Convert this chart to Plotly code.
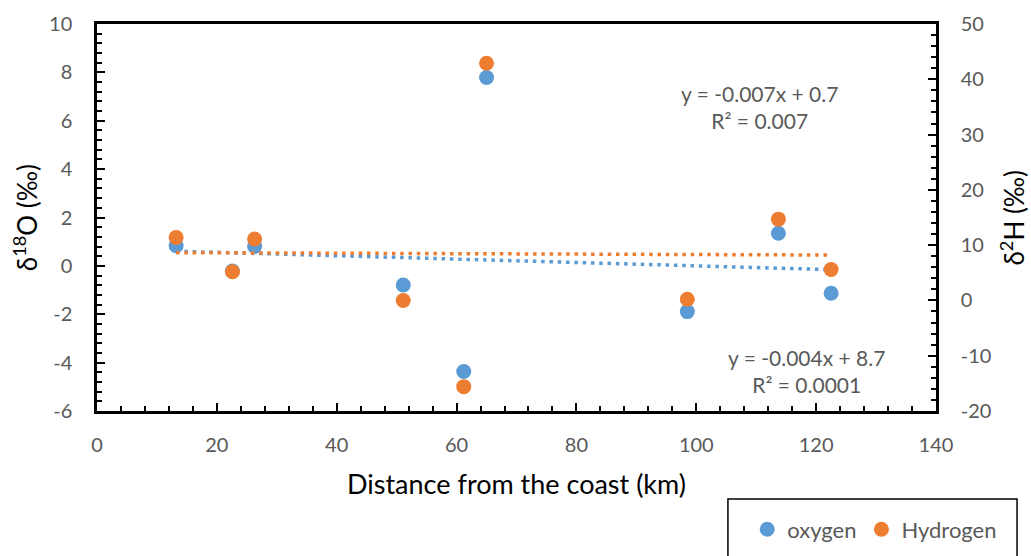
import plotly.graph_objects as go

# Sampling sites: distance inland and isotope values
distance_km = [13.2, 22.6, 26.3, 51.1, 61.2, 65.0, 98.5, 113.7, 122.5]
d18o = [0.83, -0.21, 0.80, -0.79, -4.37, 7.79, -1.89, 1.35, -1.13]
d2h = [11.4, 5.2, 11.1, 0.0, -15.6, 42.9, 0.2, 14.7, 5.6]

# Linear trend coefficients (slope, intercept) and R²
o_fit = (-0.007, 0.7, "0.007")
h_fit = (-0.004, 8.7, "0.0001")

# Axis tick values (labels written with a plain hyphen for negatives)
x_ticks = [0, 20, 40, 60, 80, 100, 120, 140]
o_ticks = [-6, -4, -2, 0, 2, 4, 6, 8, 10]
h_ticks = [-20, -10, 0, 10, 20, 30, 40, 50]

BLUE = "#5B9BD5"
ORANGE = "#ED7D31"
GREY = "#595959"
FONT = "Lato"

x_lo, x_hi = min(distance_km), max(distance_km)

fig = go.Figure()

fig.add_trace(go.Scatter(
    x=distance_km, y=d18o, mode="markers", name="oxygen",
    marker=dict(color=BLUE, size=15), yaxis="y"))
fig.add_trace(go.Scatter(
    x=[x_lo, x_hi], y=[o_fit[0] * x_lo + o_fit[1], o_fit[0] * x_hi + o_fit[1]],
    mode="lines", showlegend=False, yaxis="y",
    line=dict(color=BLUE, width=3.5, dash="3.5px,4.8px")))
fig.add_trace(go.Scatter(
    x=distance_km, y=d2h, mode="markers", name="Hydrogen",
    marker=dict(color=ORANGE, size=15), yaxis="y2"))
fig.add_trace(go.Scatter(
    x=[x_lo, x_hi], y=[h_fit[0] * x_lo + h_fit[1], h_fit[0] * x_hi + h_fit[1]],
    mode="lines", showlegend=False, yaxis="y2",
    line=dict(color=ORANGE, width=3.5, dash="3.5px,4.8px")))

tickfont = dict(family=FONT, size=20, color=GREY)
major = dict(ticks="inside", ticklen=8, tickwidth=2, tickcolor="black")
axis_common = dict(showgrid=False, zeroline=False, showline=True,
                   linecolor="black", linewidth=2.5, tickfont=tickfont, **major)


def labels(vals):
    return [str(v) for v in vals]


fig.update_layout(
    width=1031, height=556,
    margin=dict(l=97, r=95, t=24, b=145, autoexpand=False),
    paper_bgcolor="white", plot_bgcolor="white",
    font=dict(family=FONT, color=GREY),
    xaxis=dict(
        range=[0, 140], tickmode="array", tickvals=x_ticks, ticktext=labels(x_ticks),
        mirror=True, ticklabelstandoff=14,
        minor=dict(dtick=4, tick0=0, ticks="inside", ticklen=5, tickwidth=2, tickcolor="black"),
        **axis_common),
    yaxis=dict(
        range=[-6, 10], tickmode="array", tickvals=o_ticks, ticktext=labels(o_ticks),
        ticklabelstandoff=18,
        minor=dict(dtick=0.4, tick0=0, ticks="inside", ticklen=5, tickwidth=2, tickcolor="black"),
        **axis_common),
    yaxis2=dict(
        range=[-20, 50], tickmode="array", tickvals=h_ticks, ticktext=labels(h_ticks),
        overlaying="y", side="right", ticklabelstandoff=18,
        minor=dict(dtick=2, tick0=0, ticks="inside", ticklen=5, tickwidth=2, tickcolor="black"),
        **axis_common),
    legend=dict(
        orientation="h", x=0.775, xanchor="left", y=-0.306, yanchor="middle",
        font=dict(family=FONT, size=22, color=GREY),
        bgcolor="rgba(0,0,0,0)", borderwidth=0),
    shapes=[dict(
        type="rect", xref="paper", yref="paper",
        x0=0.752, x1=1.0966, y0=-0.2274, y1=-0.50,
        line=dict(color="black", width=1.5), fillcolor="rgba(0,0,0,0)")],
)

fig.add_annotation(
    text="Distance from the coast (km)", xref="paper", yref="paper",
    x=(516 - 97) / 839, y=-0.187, xanchor="center", yanchor="middle",
    showarrow=False, font=dict(family=FONT, size=27, color="black"))
fig.add_annotation(
    text="δ<sup>18</sup>O (‰)", xref="paper", yref="paper",
    x=-0.085, y=0.5, xanchor="center", yanchor="middle", textangle=-90,
    showarrow=False, font=dict(family=FONT, size=26, color="black"))
fig.add_annotation(
    text="δ<sup>2</sup>H (‰)", xref="paper", yref="paper",
    x=(1013 - 97) / 839, y=0.5, xanchor="center", yanchor="middle", textangle=-90,
    showarrow=False, font=dict(family=FONT, size=26, color="black"))

eq_font = dict(family=FONT, size=21, color=GREY)
fig.add_annotation(
    text=f"y = {o_fit[0]}x + {o_fit[1]}<br>R² = {o_fit[2]}",
    xref="paper", yref="paper", x=(759 - 97) / 839, y=(411 - 107) / 387,
    xanchor="center", yanchor="middle", showarrow=False, font=eq_font, align="center")
fig.add_annotation(
    text=f"y = {h_fit[0]}x + {h_fit[1]}<br>R² = {h_fit[2]}",
    xref="paper", yref="paper", x=(806 - 97) / 839, y=(411 - 371) / 387,
    xanchor="center", yanchor="middle", showarrow=False, font=eq_font, align="center")

fig.write_html("out.html")
